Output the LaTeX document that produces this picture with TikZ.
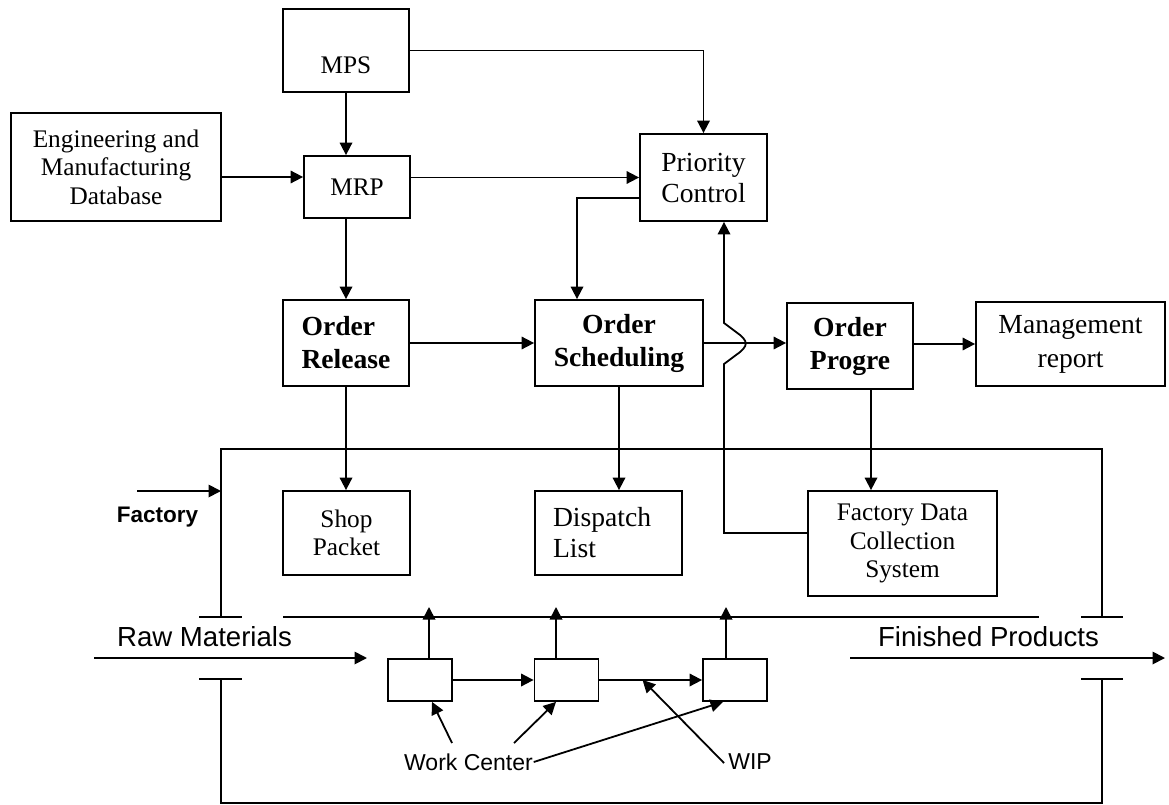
\documentclass[tikz,border=0pt]{standalone}
\usepackage{fontspec}
\setmainfont{Liberation Serif}
\setsansfont{Liberation Sans}
\usetikzlibrary{arrows.meta,calc}

\begin{document}
\begin{tikzpicture}[x=1pt,y=-1pt,
  line width=1.8pt,
  arr/.style={-{Triangle[length=12.5pt,width=12.5pt]}},
  box/.style={draw, line width=1.8pt, inner sep=0pt, align=center},
  txtA/.style={font=\fontsize{25.3}{28.5}\selectfont},
  txtB/.style={font=\fontsize{27.6}{31}\selectfont},
  txtBold/.style={font=\fontsize{27.6}{33}\selectfont\bfseries},
  sanslbl/.style={font=\fontsize{27.6}{31}\selectfont\sffamily, inner sep=0pt},
  smalllbl/.style={font=\fontsize{23}{27}\selectfont\sffamily, inner sep=0pt},
  wcbox/.style={draw, line width=1.8pt, minimum width=64pt, minimum height=42pt, inner sep=0pt}
]
\useasboundingbox (0,0) rectangle (1169,805);

% planning boxes
\node[box, txtA, minimum width=126pt, minimum height=83pt, text height=45.5pt, text depth=0pt] (mps) at (346,50.5) {MPS};
\node[box, txtA, minimum width=210pt, minimum height=108pt] (eng) at (116,167) {Engineering and\\Manufacturing\\Database};
\node[box, txtA, minimum width=106pt, minimum height=62pt] (mrp) at (357,187) {MRP};
\node[box, txtB, minimum width=127pt, minimum height=87pt] (prio) at (703.5,177.5) {Priority\\Control};

% order boxes
\node[box, txtBold, align=left, minimum width=126pt, minimum height=86pt] (orel) at (346,343) {Order\\Release};
\node[box, txtBold, minimum width=168pt, minimum height=86pt] (osch) at (619,343) {Order\\Scheduling};
\node[box, txtBold, minimum width=126pt, minimum height=86pt] (oprog) at (850,346) {Order\\Progre};
\node[box, font=\fontsize{27.6}{34}\selectfont, minimum width=189pt, minimum height=84pt] (mgmt) at (1070.5,344) {Management\\report};

% shop floor documents
\node[box, txtA, minimum width=127pt, minimum height=84pt] (shop) at (346.5,533) {Shop\\Packet};
\node[box, txtB, align=left, text width=111pt, minimum width=147pt, minimum height=84pt] (disp) at (608.5,533) {Dispatch\\List};
\node[box, txtA, minimum width=189pt, minimum height=105pt] (fdc) at (902.5,543.5) {Factory Data\\Collection\\System};

% planning connectors
\draw[arr] (mps.south) -- (mps.south |- mrp.north);
\draw[arr] ([yshift=-10pt]eng.east) -- ([yshift=-10pt]eng.east -| mrp.west);
\draw[arr] (prio.west -| mrp.east) -- (prio.west);
\draw[arr] (mps.east) -| (prio.north);
\draw[arr] ([yshift=-20.5pt]prio.west) -| ([xshift=-42pt]osch.north);
\draw[arr] (orel.north |- mrp.south) -- (orel.north);
\draw[arr] (orel.east) -- (osch.west);
\draw[arr] (osch.east) -- (oprog.west |- osch.east);
\draw[arr] (mgmt.west -| oprog.east) -- (mgmt.west);
\draw[arr] (orel.south) -- (orel.south |- shop.north);
\draw[arr] (osch.south) -- (osch.south |- disp.north);
\draw[arr] ([xshift=21pt]oprog.south) -- ([xshift=21pt]oprog.south |- fdc.north);

% feedback from data collection, hopping over the scheduling line
\coordinate (fbcorner) at (724,533);
\coordinate (hoplow) at (724,364);
\coordinate (hophigh) at (724,323);
\draw[arr] ([yshift=10.5pt]fdc.west) -- (fbcorner) -- (hoplow)
  -- (736,355) .. controls (749,346) and (749,341) .. (736,332) -- (hophigh)
  -- ([xshift=20.5pt]prio.south);

% factory walls
\draw (221,617) -- (221,449) -- (1102,449) -- (1102,617);
\draw (221,679) -- (221,803) -- (1102,803) -- (1102,679);
\draw (199,617) -- (242,617);
\draw (1081,617) -- (1123,617);
\draw (199,679) -- (242,679);
\draw (1081,679) -- (1123,679);
\coordinate (busL) at (283,617);
\coordinate (busR) at (1039,617);
\draw (busL) -- (busR);

% factory input
\coordinate (facin) at (137,491);
\coordinate (facwall) at (221,491);
\draw[arr] (facin) -- (facwall);
\node[font=\fontsize{22.5}{26}\selectfont\sffamily\bfseries, inner sep=0pt] (factory) at (157.5,517) {Factory};

% material flow
\node[sanslbl] (rawlbl) at (204.5,637) {Raw Materials};
\coordinate (rawin) at (94,658);
\coordinate (rawend) at (367,658);
\draw[arr] (rawin) -- (rawend);
\node[sanslbl] (finlbl) at (988.5,637) {Finished Products};
\coordinate (finstart) at (850,658);
\coordinate (finout) at (1165,658);
\draw[arr] (finstart) -- (finout);

% work centers
\node[wcbox] (wc1) at (420,680) {};
\node[wcbox] (wc2) at (566.5,680) {};
\node[wcbox] (wc3) at (735,680) {};
\coordinate (tipline) at (0,607);
\draw[arr] ([xshift=9pt]wc1.north) -- ([xshift=9pt]wc1.north |- tipline);
\draw[arr] ([xshift=-10.5pt]wc2.north) -- ([xshift=-10.5pt]wc2.north |- tipline);
\draw[arr] ([xshift=-9pt]wc3.north) -- ([xshift=-9pt]wc3.north |- tipline);
\draw[arr] (wc1.east) -- (wc2.west);
\draw[arr] (wc2.east) -- (wc3.west);

% callouts
\node[smalllbl] (wclbl) at (468.5,762) {Work Center};
\node[smalllbl] (wiplbl) at (750,762) {WIP};
\coordinate (wcA) at (452,743);
\coordinate (wcB) at (514,743);
\coordinate (wipfrom) at (724,763);
\coordinate (wipto) at ($(wc2.east)!0.42!(wc3.west)$);
\draw[arr] (wcA) -- ([xshift=12pt]wc1.south);
\draw[arr] (wcB) -- ([xshift=-10.5pt]wc2.south);
\draw[arr] (wclbl.east) -- ([xshift=-12pt]wc3.south);
\draw[arr] (wipfrom) -- (wipto);
\end{tikzpicture}
\end{document}
